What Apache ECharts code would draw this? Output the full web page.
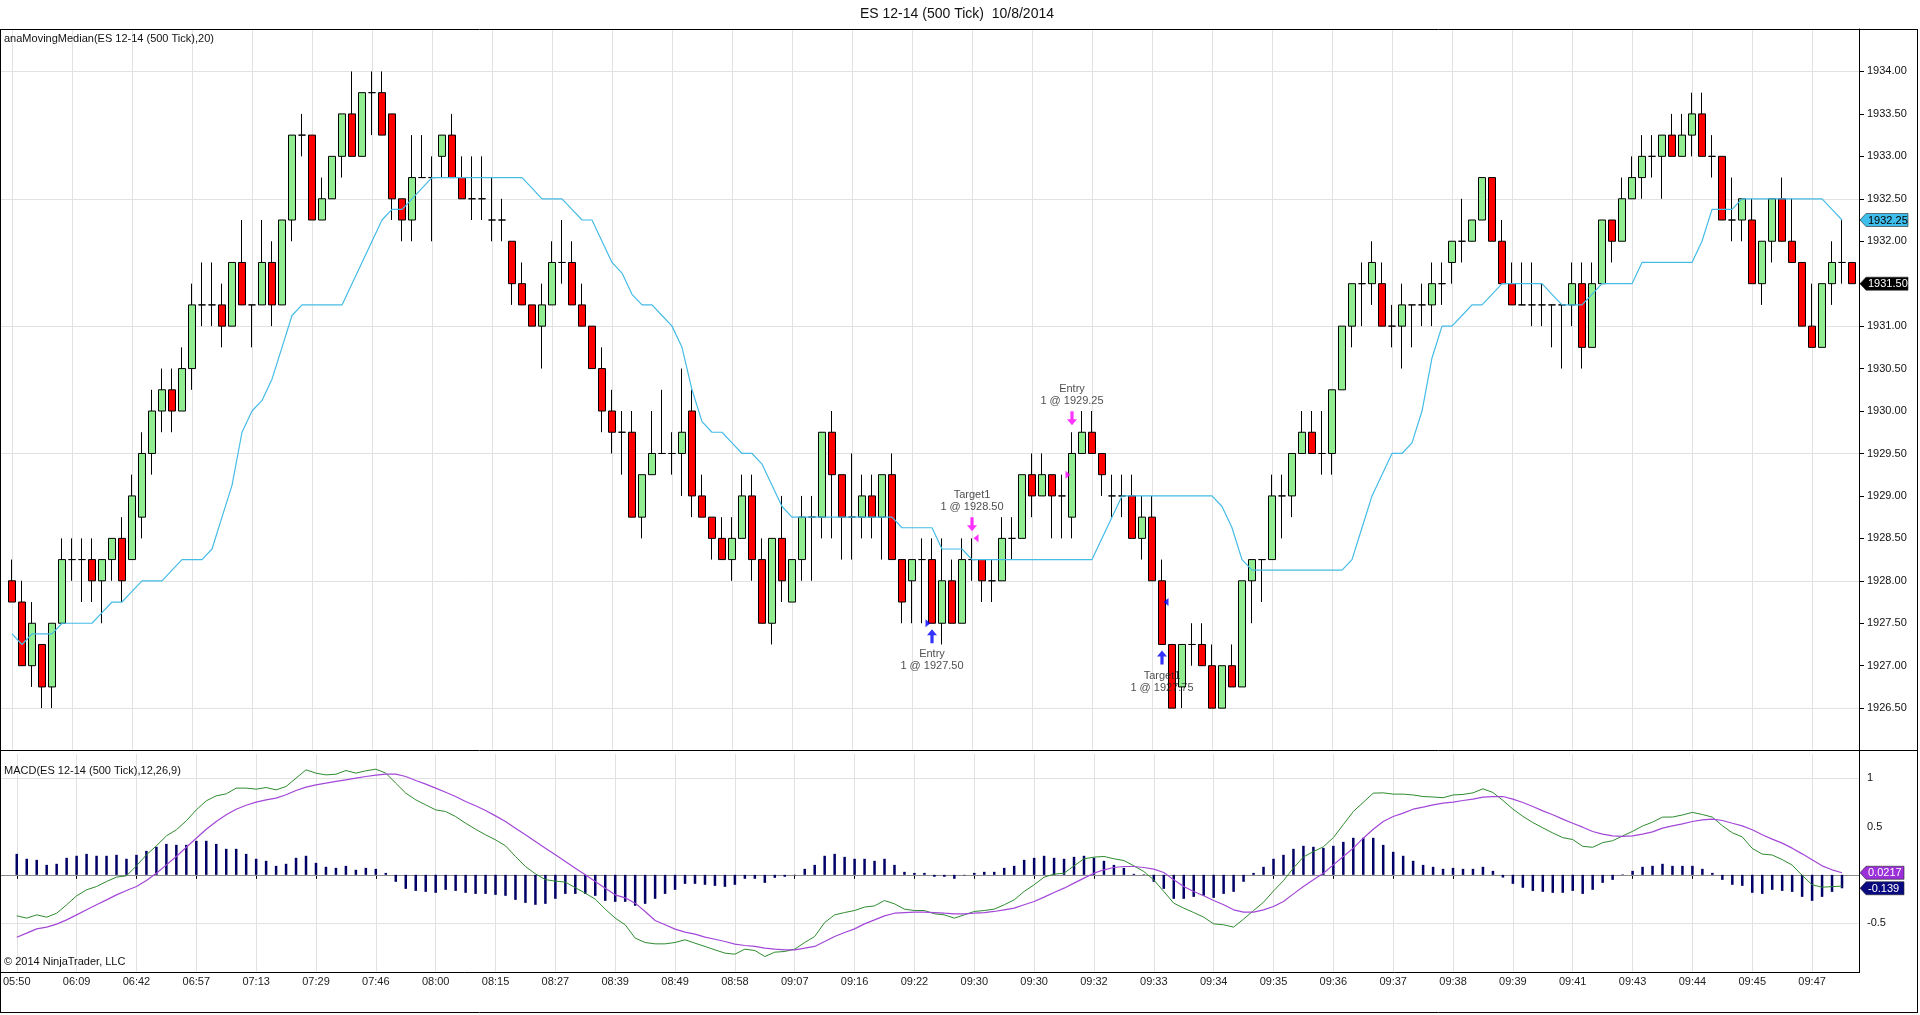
<!DOCTYPE html>
<html>
<head>
<meta charset="utf-8">
<script src="https://cdn.jsdelivr.net/npm/echarts@6.0.0/dist/echarts.min.js"></script>
<style>
html,body{margin:0;padding:0;background:#fff;}
#chart{width:1920px;height:1015px;}
</style>
</head>
<body>
<div id="chart"></div>
<script>
// ---------------- DATA ----------------
const chartTitle = 'ES 12-14 (500 Tick)  10/8/2014';
const priceLabel = 'anaMovingMedian(ES 12-14 (500 Tick),20)';
const macdLabel = 'MACD(ES 12-14 (500 Tick),12,26,9)';
const copyright = '\u00A9 2014 NinjaTrader, LLC';

const timeLabels = ['05:50','06:09','06:42','06:57','07:13','07:29','07:46','08:00','08:15','08:27','08:39','08:49','08:58','09:07','09:16','09:22','09:30','09:30','09:32','09:33','09:34','09:35','09:36','09:37','09:38','09:39','09:41','09:43','09:44','09:45','09:47'];

const open = [1928.0,1927.75,1927.0,1927.25,1926.75,1927.5,1928.25,1928.25,1928.25,1928.0,
1928.25,1928.5,1928.25,1928.75,1929.5,1930.0,1930.25,1930.0,1930.5,1931.25,
1931.25,1931.25,1931.0,1931.75,1931.25,1931.25,1931.75,1931.25,1932.25,1933.25,
1933.25,1932.25,1932.5,1933.0,1933.5,1933.0,1933.75,1933.75,1933.5,1932.5,
1932.25,1932.75,1932.75,1933.0,1933.25,1932.75,1932.5,1932.5,1932.25,1932.25,
1932.0,1931.5,1931.25,1931.0,1931.25,1931.75,1931.75,1931.25,1931.0,1930.5,
1930.0,1929.75,1929.75,1928.75,1929.25,1929.5,1929.5,1929.5,1930.0,1929.0,
1928.75,1928.5,1928.25,1928.5,1929.0,1928.25,1927.5,1928.5,1927.75,1928.25,
1928.75,1928.75,1929.75,1929.25,1928.75,1928.75,1929.0,1928.75,1929.25,1928.25,
1928.0,1928.25,1928.25,1927.5,1928.0,1927.5,1928.25,1928.25,1928.0,1928.0,
1928.5,1928.5,1929.25,1929.0,1929.25,1929.0,1928.75,1929.5,1929.75,1929.5,
1929.0,1929.0,1929.0,1928.5,1928.75,1928.0,1927.25,1926.75,1927.25,1927.25,
1927.0,1926.5,1927.0,1926.75,1928.0,1928.25,1928.25,1929.0,1929.0,1929.5,
1929.75,1929.5,1929.5,1930.25,1931.0,1931.5,1931.5,1931.5,1931.0,1931.0,
1931.25,1931.25,1931.25,1931.5,1931.75,1932.0,1932.0,1932.25,1932.75,1932.0,
1931.5,1931.25,1931.25,1931.25,1931.25,1931.25,1931.25,1931.5,1930.75,1931.5,
1932.25,1932.0,1932.5,1932.75,1933.0,1933.0,1933.25,1933.0,1933.25,1933.5,
1933.0,1933.0,1932.25,1932.25,1932.25,1931.5,1932.0,1932.5,1932.0,1931.75,
1931.0,1930.75,1931.5,1931.75,1931.75];

const close = [1927.75,1927.0,1927.5,1926.75,1927.5,1928.25,1928.25,1928.25,1928.0,1928.25,
1928.5,1928.0,1929.0,1929.5,1930.0,1930.25,1930.0,1930.5,1931.25,1931.25,
1931.25,1931.0,1931.75,1931.25,1931.25,1931.75,1931.25,1932.25,1933.25,1933.25,
1932.25,1932.5,1933.0,1933.5,1933.0,1933.75,1933.75,1933.25,1932.5,1932.25,
1932.75,1932.75,1932.75,1933.25,1932.75,1932.5,1932.5,1932.5,1932.25,1932.25,
1931.5,1931.25,1931.0,1931.25,1931.75,1931.75,1931.25,1931.0,1930.5,1930.0,
1929.75,1929.75,1928.75,1929.25,1929.5,1929.5,1929.5,1929.75,1929.0,1928.75,
1928.5,1928.25,1928.5,1929.0,1928.25,1927.5,1928.5,1928.0,1928.25,1928.75,
1928.75,1929.75,1929.25,1928.75,1928.75,1929.0,1928.75,1929.25,1928.25,1927.75,
1928.25,1928.25,1927.5,1928.0,1927.5,1928.25,1928.25,1928.0,1928.0,1928.5,
1928.5,1929.25,1929.0,1929.25,1929.0,1929.0,1929.5,1929.75,1929.5,1929.25,
1929.0,1929.0,1928.5,1928.75,1928.0,1927.25,1926.5,1927.25,1927.25,1927.0,
1926.5,1927.0,1926.75,1928.0,1928.25,1928.25,1929.0,1929.0,1929.5,1929.75,
1929.5,1929.5,1930.25,1931.0,1931.5,1931.5,1931.75,1931.0,1931.0,1931.25,
1931.25,1931.25,1931.5,1931.5,1932.0,1932.0,1932.25,1932.75,1932.0,1931.5,
1931.25,1931.25,1931.25,1931.25,1931.25,1931.25,1931.5,1930.75,1931.5,1932.25,
1932.0,1932.5,1932.75,1933.0,1933.0,1933.25,1933.0,1933.25,1933.5,1933.0,
1933.0,1932.25,1932.25,1932.5,1931.5,1932.0,1932.5,1932.0,1931.75,1931.0,
1930.75,1931.5,1931.75,1931.75,1931.5];

const low = [1927.75,1927.0,1926.75,1926.5,1926.5,1927.5,1928.0,1927.75,1927.75,1927.5,
1928.0,1927.75,1928.25,1928.5,1929.25,1929.75,1929.75,1930.0,1930.25,1931.0,
1931.0,1930.75,1931.0,1931.25,1930.75,1931.25,1931.0,1931.25,1932.0,1933.0,
1932.25,1932.25,1932.5,1932.75,1933.0,1933.0,1933.25,1933.25,1932.25,1932.0,
1932.0,1932.75,1932.0,1932.75,1932.75,1932.5,1932.25,1932.25,1932.0,1932.0,
1931.25,1931.25,1931.0,1930.5,1931.25,1931.5,1931.25,1931.0,1930.5,1929.75,
1929.5,1929.25,1928.75,1928.5,1929.25,1929.5,1929.25,1929.0,1928.75,1928.75,
1928.25,1928.25,1928.0,1928.5,1928.0,1927.5,1927.25,1927.75,1927.75,1928.0,
1928.0,1928.5,1928.5,1928.25,1928.25,1928.5,1928.5,1928.25,1928.25,1927.5,
1927.5,1927.5,1927.5,1927.25,1927.5,1927.5,1928.0,1927.75,1927.75,1928.0,
1928.25,1928.5,1928.75,1929.0,1928.5,1928.5,1928.5,1929.5,1929.5,1929.0,
1928.75,1928.75,1928.5,1928.25,1928.0,1927.25,1926.5,1926.5,1927.0,1927.0,
1926.5,1926.5,1926.75,1926.75,1927.5,1927.75,1928.25,1928.5,1928.75,1929.5,
1929.5,1929.25,1929.25,1930.25,1930.75,1931.0,1931.25,1931.0,1930.75,1930.5,
1930.75,1931.0,1931.0,1931.25,1931.5,1931.75,1932.0,1932.25,1932.0,1931.5,
1931.25,1931.25,1931.0,1931.0,1930.75,1930.5,1931.0,1930.5,1930.75,1931.5,
1931.75,1932.0,1932.5,1932.5,1932.75,1932.5,1933.0,1933.0,1933.0,1933.0,
1932.75,1932.25,1932.0,1932.0,1931.5,1931.25,1931.75,1932.0,1931.75,1931.0,
1930.75,1930.75,1931.25,1931.5,1931.5];

const high = [1928.25,1928.0,1927.75,1927.25,1927.5,1928.5,1928.5,1928.5,1928.5,1928.25,
1928.5,1928.75,1929.25,1929.75,1930.25,1930.5,1930.5,1930.75,1931.5,1931.75,
1931.75,1931.5,1931.75,1932.25,1931.25,1932.25,1932.0,1932.25,1933.25,1933.5,
1933.25,1932.75,1933.0,1933.5,1934.0,1933.75,1934.0,1934.0,1933.5,1932.5,
1933.25,1933.25,1933.0,1933.25,1933.5,1933.0,1933.0,1933.0,1932.75,1932.5,
1932.0,1931.75,1931.25,1931.5,1932.0,1932.25,1932.0,1931.5,1931.0,1930.75,
1930.25,1930.0,1930.0,1929.25,1930.0,1930.25,1929.75,1930.5,1930.25,1929.25,
1928.75,1928.75,1928.75,1929.25,1929.25,1928.5,1928.5,1929.0,1928.25,1929.0,
1929.0,1929.75,1930.0,1929.25,1929.5,1929.25,1929.25,1929.25,1929.5,1928.25,
1928.25,1928.5,1928.5,1928.5,1928.25,1928.5,1928.5,1928.25,1928.25,1928.75,
1928.75,1929.25,1929.5,1929.5,1929.25,1929.25,1929.75,1930.0,1930.0,1929.5,
1929.25,1929.25,1929.25,1929.0,1929.0,1928.25,1927.25,1927.25,1927.5,1927.5,
1927.25,1927.0,1927.25,1928.0,1928.25,1928.25,1929.25,1929.25,1929.5,1930.0,
1930.0,1930.0,1930.25,1931.0,1931.5,1931.75,1932.0,1931.75,1931.25,1931.5,
1931.25,1931.5,1931.75,1931.75,1932.0,1932.5,1932.25,1932.75,1932.75,1932.25,
1931.75,1931.75,1931.75,1931.5,1931.25,1931.25,1931.75,1931.75,1931.75,1932.25,
1932.25,1932.75,1933.0,1933.25,1933.25,1933.25,1933.5,1933.5,1933.75,1933.75,
1933.25,1933.0,1932.75,1932.5,1932.5,1932.0,1932.5,1932.75,1932.5,1931.75,
1931.5,1931.5,1932.0,1932.25,1931.75];

const movingMedian = [1927.375,1927.25,1927.375,1927.375,1927.375,1927.5,1927.5,1927.5,1927.5,1927.625,
1927.75,1927.75,1927.875,1928.0,1928.0,1928.0,1928.125,1928.25,1928.25,1928.25,
1928.375,1928.75,1929.125,1929.75,1930.0,1930.125,1930.375,1930.75,1931.125,1931.25,
1931.25,1931.25,1931.25,1931.25,1931.5,1931.75,1932.0,1932.25,1932.375,1932.375,
1932.5,1932.625,1932.75,1932.75,1932.75,1932.75,1932.75,1932.75,1932.75,1932.75,
1932.75,1932.75,1932.625,1932.5,1932.5,1932.5,1932.375,1932.25,1932.25,1932.0,
1931.75,1931.625,1931.375,1931.25,1931.25,1931.125,1931.0,1930.75,1930.25,1929.875,
1929.75,1929.75,1929.625,1929.5,1929.5,1929.375,1929.125,1928.875,1928.75,1928.75,
1928.75,1928.75,1928.75,1928.75,1928.75,1928.75,1928.75,1928.75,1928.75,1928.625,
1928.625,1928.625,1928.625,1928.375,1928.375,1928.375,1928.25,1928.25,1928.25,1928.25,
1928.25,1928.25,1928.25,1928.25,1928.25,1928.25,1928.25,1928.25,1928.25,1928.5,
1928.75,1929.0,1929.0,1929.0,1929.0,1929.0,1929.0,1929.0,1929.0,1929.0,
1929.0,1928.875,1928.625,1928.25,1928.125,1928.125,1928.125,1928.125,1928.125,1928.125,
1928.125,1928.125,1928.125,1928.125,1928.25,1928.625,1929.0,1929.25,1929.5,1929.5,
1929.625,1930.0,1930.625,1931.0,1931.0,1931.125,1931.25,1931.25,1931.375,1931.5,
1931.5,1931.5,1931.5,1931.5,1931.375,1931.25,1931.25,1931.25,1931.375,1931.5,
1931.5,1931.5,1931.5,1931.75,1931.75,1931.75,1931.75,1931.75,1931.75,1932.0,
1932.375,1932.375,1932.375,1932.5,1932.5,1932.5,1932.5,1932.5,1932.5,1932.5,
1932.5,1932.5,1932.375,1932.25,null];

const macdLine = [-0.424,-0.448,-0.414,-0.438,-0.397,-0.31,-0.217,-0.155,-0.121,-0.069,
-0.024,-0.01,0.093,0.207,0.3,0.403,0.466,0.559,0.672,0.766,
0.817,0.838,0.897,0.897,0.886,0.903,0.879,0.914,1.0,1.086,
1.052,1.034,1.041,1.079,1.052,1.076,1.093,1.052,0.948,0.845,
0.776,0.724,0.672,0.655,0.603,0.534,0.472,0.414,0.362,0.3,
0.19,0.086,0.01,-0.05,-0.065,-0.075,-0.133,-0.19,-0.252,-0.355,
-0.448,-0.517,-0.655,-0.7,-0.714,-0.714,-0.7,-0.672,-0.707,-0.741,
-0.776,-0.81,-0.821,-0.769,-0.783,-0.845,-0.8,-0.793,-0.769,-0.7,
-0.638,-0.493,-0.414,-0.39,-0.369,-0.334,-0.321,-0.266,-0.3,-0.355,
-0.369,-0.369,-0.403,-0.414,-0.448,-0.414,-0.379,-0.369,-0.355,-0.31,
-0.259,-0.172,-0.103,-0.024,0.007,0.017,0.093,0.166,0.183,0.19,
0.166,0.148,0.093,0.034,-0.052,-0.172,-0.293,-0.345,-0.39,-0.438,
-0.507,-0.517,-0.541,-0.458,-0.37,-0.283,-0.167,-0.06,0.07,0.185,
0.24,0.29,0.385,0.52,0.655,0.75,0.845,0.848,0.835,0.835,
0.826,0.81,0.805,0.798,0.826,0.832,0.848,0.89,0.852,0.77,
0.68,0.605,0.541,0.486,0.433,0.385,0.365,0.295,0.285,0.333,
0.353,0.402,0.45,0.505,0.545,0.597,0.598,0.619,0.646,0.624,
0.597,0.508,0.435,0.392,0.273,0.215,0.205,0.158,0.101,-0.005,
-0.103,-0.128,-0.122,-0.117,null];

const macdAvg = [-0.645,-0.603,-0.559,-0.541,-0.51,-0.466,-0.414,-0.362,-0.31,-0.259,
-0.207,-0.162,-0.121,-0.059,0.017,0.103,0.19,0.286,0.379,0.472,
0.552,0.621,0.679,0.72,0.752,0.776,0.793,0.828,0.872,0.907,
0.931,0.948,0.966,0.983,1.0,1.017,1.031,1.041,1.041,1.017,
0.976,0.938,0.897,0.855,0.81,0.759,0.714,0.666,0.61,0.552,
0.483,0.414,0.345,0.276,0.207,0.138,0.069,0.0,-0.069,-0.138,
-0.207,-0.238,-0.293,-0.379,-0.472,-0.517,-0.562,-0.593,-0.614,-0.645,
-0.666,-0.69,-0.717,-0.731,-0.741,-0.759,-0.769,-0.776,-0.776,-0.759,
-0.741,-0.69,-0.638,-0.597,-0.559,-0.507,-0.466,-0.424,-0.397,-0.39,
-0.386,-0.386,-0.39,-0.397,-0.403,-0.403,-0.397,-0.39,-0.379,-0.362,
-0.345,-0.31,-0.276,-0.231,-0.183,-0.138,-0.086,-0.034,0.017,0.052,
0.076,0.086,0.086,0.076,0.059,0.024,-0.052,-0.121,-0.172,-0.217,
-0.266,-0.31,-0.362,-0.386,-0.386,-0.362,-0.328,-0.276,-0.197,-0.121,
-0.052,0.017,0.103,0.19,0.276,0.379,0.472,0.552,0.603,0.638,
0.679,0.7,0.724,0.741,0.752,0.769,0.783,0.803,0.81,0.81,
0.783,0.748,0.707,0.662,0.621,0.576,0.534,0.493,0.448,0.421,
0.403,0.397,0.403,0.421,0.445,0.483,0.507,0.528,0.552,0.569,
0.576,0.562,0.534,0.507,0.466,0.414,0.369,0.328,0.276,0.217,
0.155,0.093,0.052,0.0217,null];

const macdDiff = [0.217,0.166,0.155,0.103,0.114,0.176,0.197,0.217,0.197,0.197,
0.207,0.166,0.207,0.248,0.29,0.32,0.31,0.31,0.352,0.352,
0.32,0.269,0.269,0.217,0.166,0.145,0.093,0.114,0.176,0.197,
0.124,0.083,0.072,0.093,0.052,0.072,0.062,0.02,-0.072,-0.145,
-0.166,-0.176,-0.186,-0.155,-0.166,-0.186,-0.197,-0.197,-0.207,-0.217,
-0.259,-0.29,-0.31,-0.3,-0.248,-0.197,-0.197,-0.197,-0.217,-0.269,
-0.279,-0.279,-0.32,-0.3,-0.248,-0.197,-0.155,-0.093,-0.093,-0.103,
-0.114,-0.124,-0.103,-0.041,-0.041,-0.083,-0.031,-0.02,-0.005,0.062,
0.103,0.197,0.217,0.186,0.166,0.166,0.145,0.166,0.103,0.031,
0.02,0.02,-0.02,-0.02,-0.041,-0.005,0.02,0.031,0.031,0.072,
0.093,0.155,0.176,0.197,0.176,0.166,0.186,0.197,0.176,0.145,
0.103,0.072,0.01,0.005,-0.072,-0.145,-0.248,-0.248,-0.228,-0.217,
-0.238,-0.197,-0.176,-0.072,0.02,0.083,0.166,0.207,0.269,0.3,
0.29,0.279,0.3,0.341,0.383,0.383,0.383,0.31,0.238,0.197,
0.145,0.103,0.083,0.062,0.072,0.062,0.062,0.083,0.041,-0.028,
-0.093,-0.134,-0.166,-0.176,-0.186,-0.186,-0.166,-0.197,-0.155,-0.083,
-0.052,0.005,0.041,0.083,0.093,0.114,0.093,0.093,0.093,0.062,
0.02,-0.052,-0.103,-0.114,-0.186,-0.197,-0.155,-0.166,-0.176,-0.228,
-0.269,-0.228,-0.176,-0.139,null];

// trade markers
const tradeBar   = [92, 96, 106, 115];
const tradeName  = ['Entry', 'Target1', 'Entry', 'Target1'];
const tradePrice = [1927.50, 1928.50, 1929.25, 1927.75];
const tradeSide  = ['buy', 'sell', 'sell', 'buy'];
const tradeKind  = ['entry', 'exit', 'entry', 'exit'];

// axis ticks / grid levels
const priceGridLevels = [1926.5, 1928, 1929.5, 1931, 1932.5, 1934];
const macdGridLevels = [1, -0.5];
const macdLabelLevels = [1, 0.5, -0.5];

// ---------------- CHART ----------------
const chart = echarts.init(document.getElementById('chart'), null, {renderer: 'canvas'});
const FONT = '"Liberation Sans", Arial, sans-serif';
const cats = open.map((_, i) => String(i));
const candleData = open.map((o, i) => [o, close[i], low[i], high[i]]);
const labelFor = i => (i % 6 === 0 && timeLabels[i / 6]) ? timeLabels[i / 6] : '';

const upArrow = 'path://M5,0 L10,6 L6.6,6 L6.6,14 L3.4,14 L3.4,6 L0,6 Z';
const downArrow = 'path://M3.4,0 L6.6,0 L6.6,8 L10,8 L5,14 L0,8 L3.4,8 Z';

const buyIdx = tradeBar.map((b, k) => k).filter(k => tradeSide[k] === 'buy');
const sellIdx = tradeBar.map((b, k) => k).filter(k => tradeSide[k] === 'sell');
const textOf = k => tradeName[k] + '\n1 @ ' + tradePrice[k].toFixed(2);

const GRID0 = {left: 12, right: 68, top: 29, bottom: 264.4};
const GRID1 = {left: 12, right: 68, top: 754, bottom: 43.5};

const option = {
  animation: false,
  backgroundColor: '#fff',
  textStyle: {fontFamily: FONT},
  grid: [GRID0, GRID1],
  xAxis: [
    {type: 'category', gridIndex: 0, data: cats, boundaryGap: false,
     axisLine: {show: false}, axisTick: {show: false}, axisLabel: {show: false},
     splitLine: {show: true, interval: 5, lineStyle: {color: '#e2e2e2', width: 1}}},
    {type: 'category', gridIndex: 1, data: cats, boundaryGap: false,
     axisLine: {show: false},
     axisTick: {show: true, interval: 5, length: 4, lineStyle: {color: '#000'}},
     axisLabel: {show: true, interval: 5, margin: 5, fontSize: 11, color: '#222', fontFamily: FONT,
                 formatter: (v, i) => labelFor(i)},
     splitLine: {show: true, interval: 5, lineStyle: {color: '#e2e2e2', width: 1}}}
  ],
  yAxis: [
    {type: 'value', gridIndex: 0, position: 'right', offset: 7, min: 1926, max: 1934.5, interval: 0.5,
     axisLine: {show: true, lineStyle: {color: '#000'}},
     axisTick: {show: true, length: 5, lineStyle: {color: '#000'}},
     axisLabel: {show: true, margin: 8, fontSize: 11, color: '#111', fontFamily: FONT,
                 formatter: v => (v > 1926.2 && v < 1934.3) ? v.toFixed(2) : ''},
     splitLine: {show: false}},
    {type: 'value', gridIndex: 1, position: 'right', offset: 7, min: -1, max: 1.25, interval: 0.5,
     axisLine: {show: true, lineStyle: {color: '#000'}},
     axisTick: {show: false},
     axisLabel: {show: true, margin: 8, fontSize: 11, color: '#111', fontFamily: FONT,
                 formatter: v => macdLabelLevels.some(l => Math.abs(l - v) < 1e-6) ? String(v) : ''},
     splitLine: {show: false}}
  ],
  series: [
    {type: 'candlestick', name: 'price', xAxisIndex: 0, yAxisIndex: 0, data: candleData,
     barWidth: 7, clip: false, z: 3,
     itemStyle: {color: '#90EE90', color0: '#FF0000', borderColor: '#000', borderColor0: '#000', borderWidth: 1}},
    {type: 'line', name: 'median', xAxisIndex: 0, yAxisIndex: 0, data: movingMedian,
     symbol: 'none', z: 4, lineStyle: {color: '#45BCE6', width: 1.2}, connectNulls: false},
    {type: 'scatter', name: 'buyArrow', xAxisIndex: 0, yAxisIndex: 0, z: 6,
     data: buyIdx.map(k => [tradeBar[k], low[tradeBar[k]]]),
     symbol: upArrow, symbolSize: [10, 14], symbolOffset: [0, 13], itemStyle: {color: '#0000FF'}},
    {type: 'scatter', name: 'sellArrow', xAxisIndex: 0, yAxisIndex: 0, z: 6,
     data: sellIdx.map(k => [tradeBar[k], high[tradeBar[k]]]),
     symbol: downArrow, symbolSize: [10, 14], symbolOffset: [0, -14], itemStyle: {color: '#FF00FF'}},
    {type: 'scatter', name: 'buyText', xAxisIndex: 0, yAxisIndex: 0, z: 6, symbolSize: 0,
     data: buyIdx.map(k => ({value: [tradeBar[k], low[tradeBar[k]]], name: textOf(k)})),
     label: {show: true, position: 'inside', offset: [0, 37], formatter: p => p.name,
             fontSize: 11, lineHeight: 12, color: '#222', fontFamily: FONT, align: 'center'}},
    {type: 'scatter', name: 'sellText', xAxisIndex: 0, yAxisIndex: 0, z: 6, symbolSize: 0,
     data: sellIdx.map(k => ({value: [tradeBar[k], high[tradeBar[k]]], name: textOf(k)})),
     label: {show: true, position: 'inside', offset: [0, -37], formatter: p => p.name,
             fontSize: 11, lineHeight: 12, color: '#222', fontFamily: FONT, align: 'center'}},
    {type: 'scatter', name: 'entryExec', xAxisIndex: 0, yAxisIndex: 0, z: 7,
     data: tradeBar.map((b, k) => k).filter(k => tradeKind[k] === 'entry').map(k => ({
       value: [tradeBar[k], tradePrice[k]],
       itemStyle: {color: tradeSide[k] === 'buy' ? '#0000FF' : '#FF00FF'}})),
     symbol: 'triangle', symbolSize: [8, 5], symbolRotate: -90, symbolOffset: [-4, 0]},
    {type: 'scatter', name: 'exitExec', xAxisIndex: 0, yAxisIndex: 0, z: 7,
     data: tradeBar.map((b, k) => k).filter(k => tradeKind[k] === 'exit').map(k => ({
       value: [tradeBar[k], tradePrice[k]],
       itemStyle: {color: tradeSide[k] === 'buy' ? '#0000FF' : '#FF00FF'}})),
     symbol: 'triangle', symbolSize: [8, 5], symbolRotate: 90, symbolOffset: [4, 0]},
    {type: 'bar', name: 'Diff', xAxisIndex: 1, yAxisIndex: 1, data: macdDiff,
     barWidth: 2.5, z: 3, itemStyle: {color: '#000066'}},
    {type: 'line', name: 'Macd', xAxisIndex: 1, yAxisIndex: 1, data: macdLine,
     symbol: 'none', z: 4, lineStyle: {color: '#2E8B2E', width: 1}},
    {type: 'line', name: 'Avg', xAxisIndex: 1, yAxisIndex: 1, data: macdAvg,
     symbol: 'none', z: 4, lineStyle: {color: '#A347D8', width: 1.2}}
  ]
};
chart.setOption(option);

// ---------------- OVERLAY (frame, grid levels, value tags, texts) ----------------
const yP = v => chart.convertToPixel({yAxisIndex: 0}, v);
const yM = v => chart.convertToPixel({yAxisIndex: 1}, v);
const xAxisPix = chart.convertToPixel({yAxisIndex: 1}, -1);
const axisX = 1859.5;
const sepY = 750.5;
const gfx = [];
const hline = (y, x1, x2, color, z, w) => gfx.push({type: 'line', silent: true, z: z,
  shape: {x1: x1, y1: y, x2: x2, y2: y}, style: {stroke: color, lineWidth: w || 1}});
const vline = (x, y1, y2, color, z) => gfx.push({type: 'line', silent: true, z: z,
  shape: {x1: x, y1: y1, x2: x, y2: y2}, style: {stroke: color, lineWidth: 1}});

priceGridLevels.forEach(v => hline(Math.round(yP(v)) + 0.5, 1, axisX, '#e2e2e2', -1));
macdGridLevels.forEach(v => hline(Math.round(yM(v)) + 0.5, 1, axisX, '#e2e2e2', -1));
hline(Math.round(yM(0)) + 0.5, 1, axisX, '#8c8c8c', 1);

// frame
hline(29.5, 0, 1918, '#000', 50);
hline(sepY, 0, 1918, '#000', 50);
hline(Math.round(xAxisPix) + 0.5, 0, axisX, '#000', 50);
hline(1012.5, 0, 1918, '#000', 50);
vline(0.5, 29, 1013, '#000', 50);
vline(1917.5, 29, 1013, '#000', 50);
vline(axisX, 29, Math.round(xAxisPix) + 1, '#000', 50);

// texts
const txt = (x, y, s, size, align) => gfx.push({type: 'text', silent: true, z: 60, x: x, y: y,
  style: {text: s, font: size + 'px ' + FONT, fill: '#111', align: align || 'left', verticalAlign: 'middle',
          textAlign: align || 'left', textVerticalAlign: 'middle'}});
txt(957, 14, chartTitle, 14, 'center');
txt(4, 39, priceLabel, 11);
txt(4, 771, macdLabel, 11);
txt(4, 962, copyright, 11);

// value tags on the right axis
const tag = (y, s, fill, color, w) => {
  const x0 = axisX + 0.5, h = 6.5;
  gfx.push({type: 'polygon', silent: true, z: 70,
    shape: {points: [[x0, y], [x0 + 6, y - h], [x0 + w, y - h], [x0 + w, y + h], [x0 + 6, y + h]]},
    style: {fill: fill, stroke: '#222', lineWidth: 0.6}});
  gfx.push({type: 'text', silent: true, z: 71, x: x0 + 8, y: y + 0.5,
    style: {text: s, font: '11px ' + FONT, fill: color, align: 'left', verticalAlign: 'middle',
            textAlign: 'left', textVerticalAlign: 'middle'}});
};
const last = close.length - 1;
const lastMed = movingMedian.filter(v => v !== null).slice(-1)[0];
const lastAvg = macdAvg.filter(v => v !== null).slice(-1)[0];
const lastDiff = macdDiff.filter(v => v !== null).slice(-1)[0];
tag(yP(lastMed), lastMed.toFixed(2), '#3FBDEB', '#000', 48);
tag(yP(close[last]), close[last].toFixed(2), '#000', '#fff', 48);
tag(yM(lastAvg), lastAvg.toPrecision(3), '#9B30D9', '#fff', 44);
tag(yM(lastDiff), lastDiff.toPrecision(3), '#0A0A80', '#fff', 44);

chart.setOption({graphic: {elements: gfx}});
</script>
</body>
</html>
